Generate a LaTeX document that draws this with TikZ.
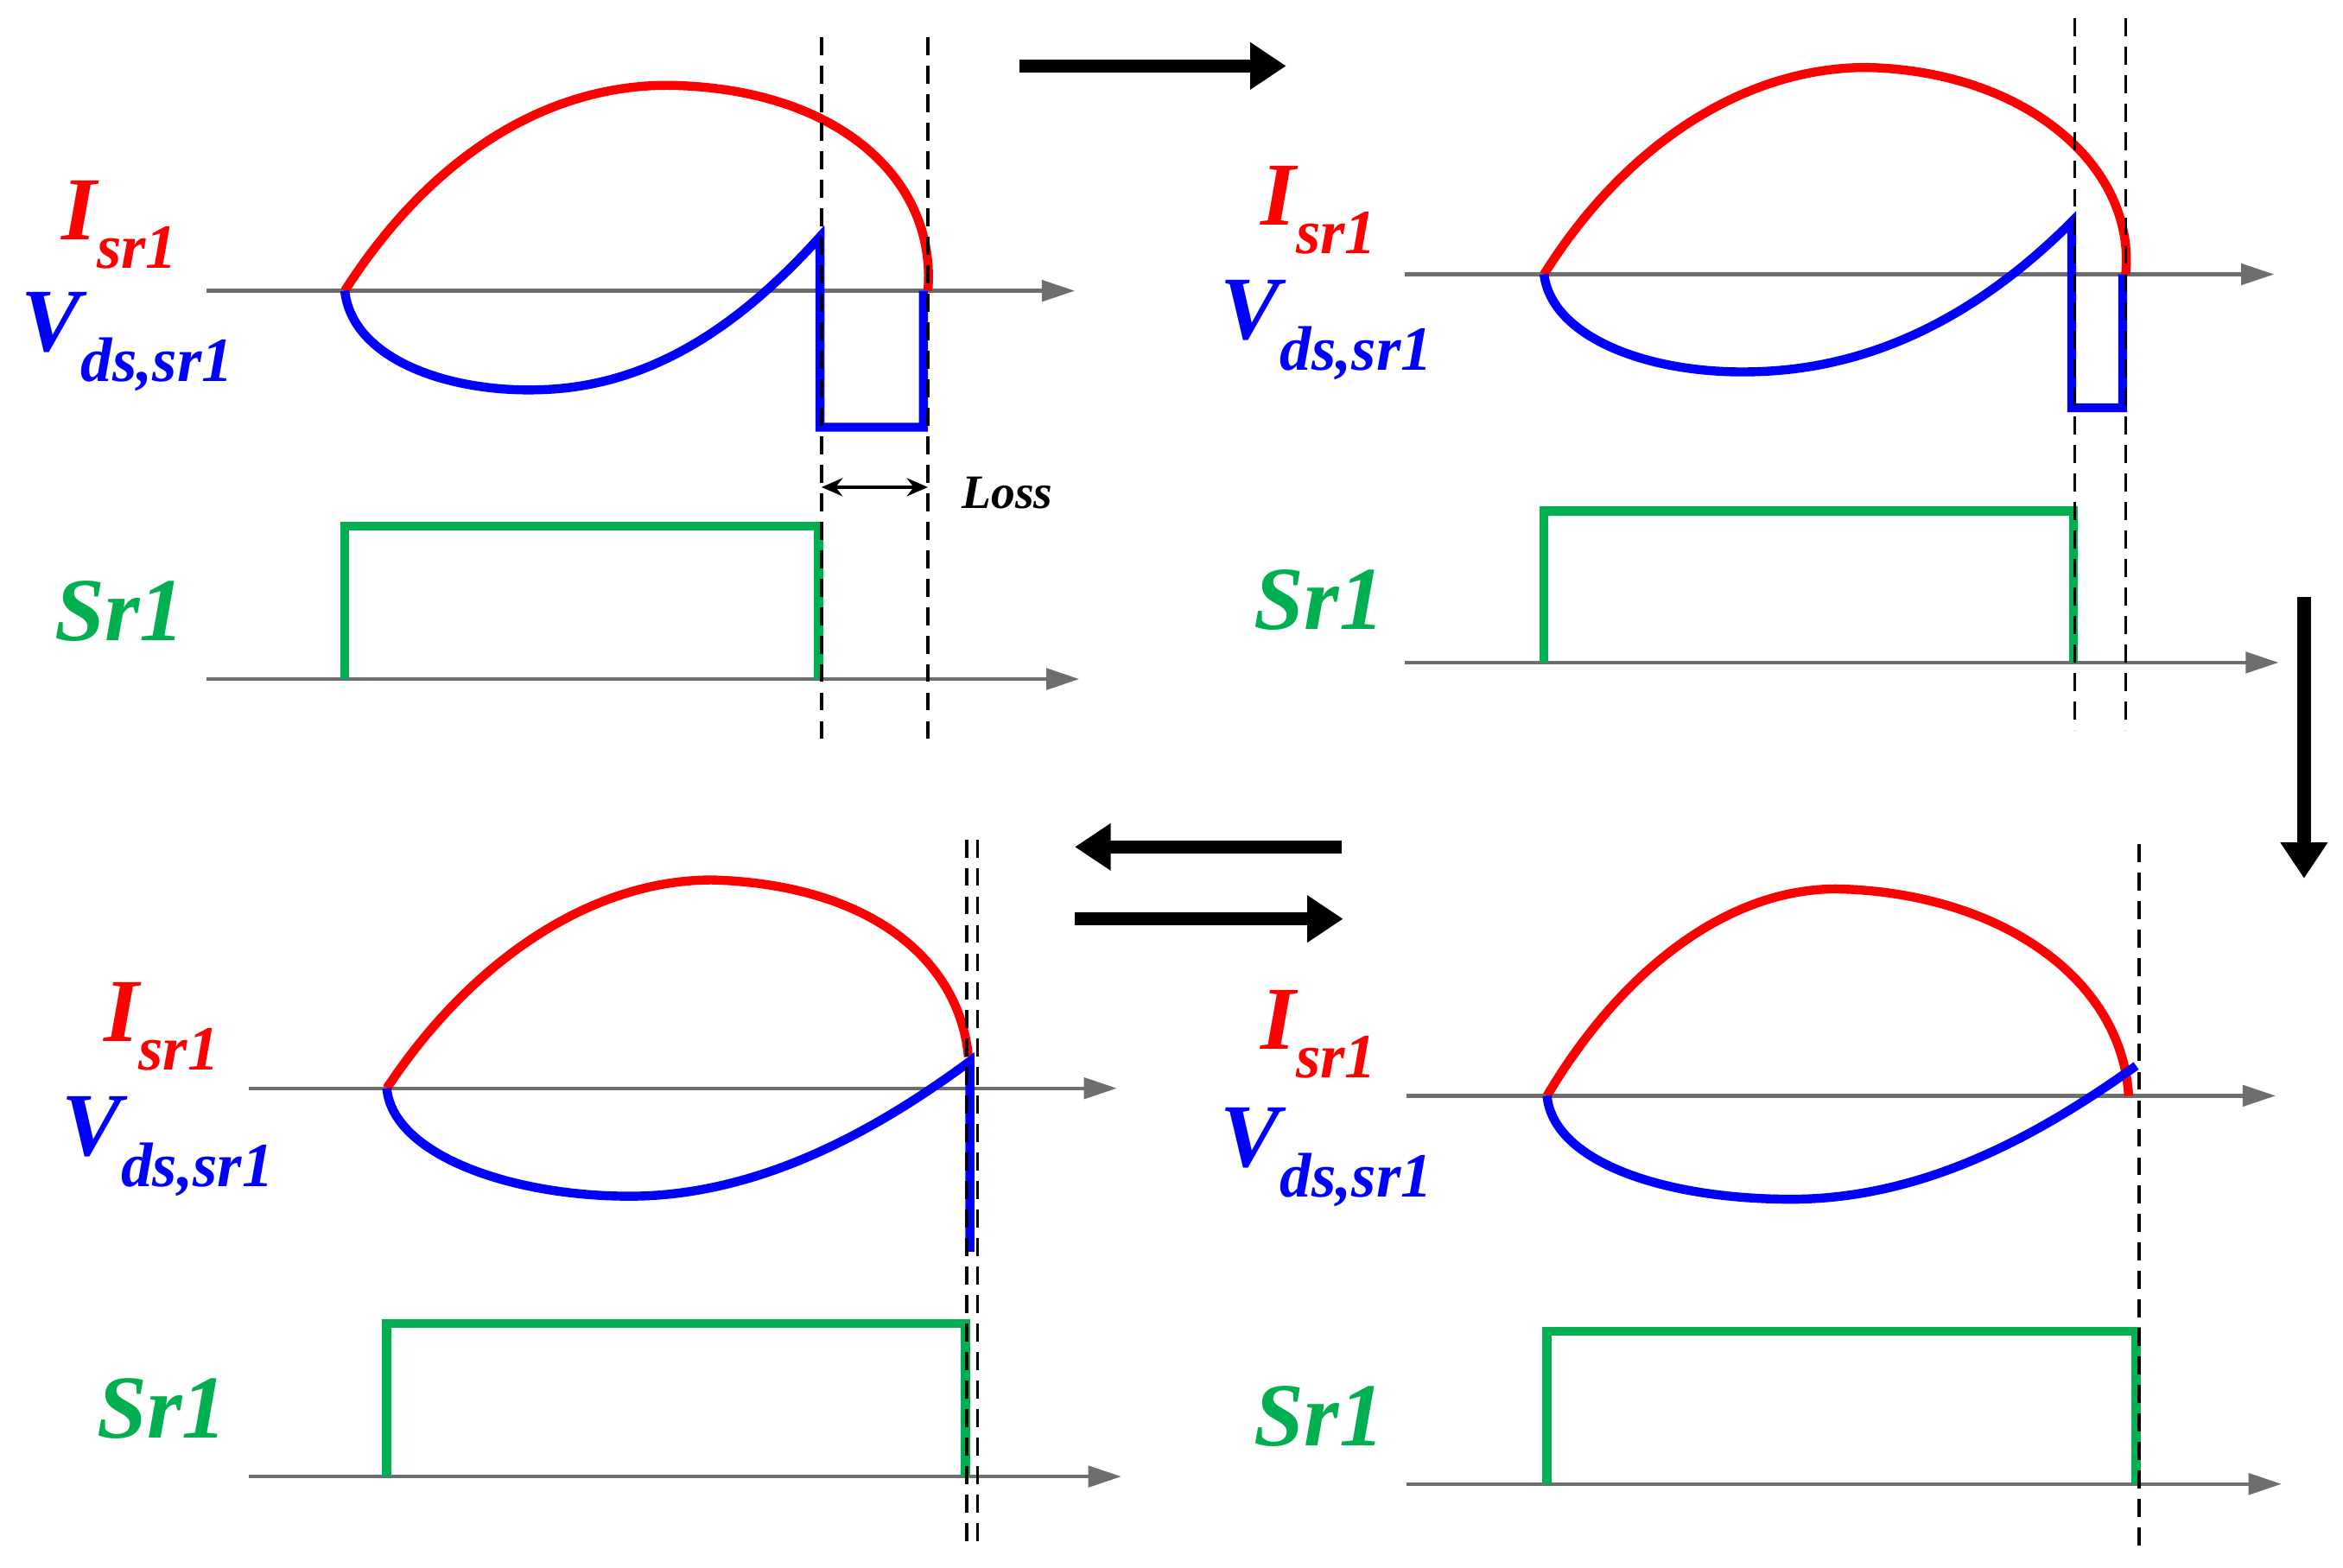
\documentclass[tikz,border=0pt]{standalone}
\usepackage{fontspec}
\setmainfont{Liberation Serif}
\usetikzlibrary{arrows.meta}
\definecolor{cred}{RGB}{255,0,0}
\definecolor{cblue}{RGB}{0,0,255}
\definecolor{cgreen}{RGB}{0,176,80}
\definecolor{cgray}{RGB}{110,110,110}
\begin{document}
\begin{tikzpicture}[x=1pt,y=-1pt,
 ax/.style={cgray,line width=2.5pt,-{Triangle[length=22pt,width=14pt]}},
 cur/.style={cred,line width=6pt},
 vol/.style={cblue,line width=6pt,line join=miter},
 sw/.style={cgreen,line width=6pt},
 dl/.style={black,line width=2pt,dash pattern=on 12pt off 7pt},
 big/.style={black,line width=9pt,-{Triangle[length=24pt,width=30pt]}},
 lbl/.style={font=\fontsize{60}{64}\selectfont\bfseries\itshape,inner sep=0pt}]
\useasboundingbox (0,0) rectangle (1563,1046);
% ---------- panel 1
\node[lbl,cred] (i1) at (80,150) {I\textsubscript{sr1}};
\node[lbl,cblue] (v1) at (85,228) {V\textsubscript{ds,sr1}};
\node[lbl,cgreen] (s1) at (80,408) {Sr1};
\coordinate (a1s) at (138,194); \coordinate (a1e) at (717,194);
\coordinate (b1s) at (138,453); \coordinate (b1e) at (720,453);
\draw[ax] (a1s) -- (a1e);
\draw[ax] (b1s) -- (b1e);
\draw[cur] (230,194) .. controls (290,100) and (370,55) .. (450,57) .. controls (560,60) and (625,120) .. (619,194);
\draw[vol] (230,194) .. controls (235,240) and (300,262) .. (360,260) .. controls (440,258) and (500,210) .. (547,158) -- (547,285) -- (616,285) -- (616,194);
\draw[sw] (230,453) -- (230,351) -- (546,351) -- (546,453);
\draw[dl] (548,25) -- (548,497);
\draw[dl] (619,25) -- (619,497);
\coordinate (l1) at (548,325); \coordinate (l2) at (619,325);
\draw[line width=2.5pt,{Stealth[length=14pt,width=12pt]}-{Stealth[length=14pt,width=12pt]}] (l1) -- (l2);
\node[font=\fontsize{32}{34}\selectfont\bfseries\itshape,inner sep=0pt] (loss) at (672,329) {Loss};
% ---------- panel 2
\node[lbl,cred] (i2) at (880,140) {I\textsubscript{sr1}};
\node[lbl,cblue] (v2) at (885,220) {V\textsubscript{ds,sr1}};
\node[lbl,cgreen] (s2) at (880,400) {Sr1};
\draw[ax] (937,183) -- (1517,183);
\draw[ax] (937,442) -- (1520,442);
\draw[cur] (1030,183) .. controls (1085,95) and (1165,45) .. (1245,45) .. controls (1350,47) and (1425,110) .. (1418,183);
\draw[vol] (1030,183) .. controls (1035,225) and (1100,250) .. (1170,248) .. controls (1260,246) and (1330,200) .. (1382,148) -- (1382,272) -- (1416,272) -- (1416,183);
\draw[sw] (1030,442) -- (1030,341) -- (1383,341) -- (1383,442);
\draw[dl] (1384,12) -- (1384,487);
\draw[dl] (1418,12) -- (1418,487);
% ---------- panel 3
\node[lbl,cred] (i3) at (108,685) {I\textsubscript{sr1}};
\node[lbl,cblue] (v3) at (112,765) {V\textsubscript{ds,sr1}};
\node[lbl,cgreen] (s3) at (108,940) {Sr1};
\draw[ax] (166,726) -- (745,726);
\draw[ax] (166,985) -- (748,985);
\draw[cur] (258,726) .. controls (315,640) and (395,587) .. (475,587) .. controls (580,590) and (640,640) .. (646,705);
\draw[vol] (258,726) .. controls (262,770) and (340,798) .. (420,798) .. controls (510,798) and (590,750) .. (647,708) -- (647,835);
\draw[sw] (258,985) -- (258,883) -- (644,883) -- (644,985);
\draw[dl] (645,560) -- (645,1032);
\draw[dl] (652,560) -- (652,1032);
% ---------- panel 4
\node[lbl,cred] (i4) at (880,690) {I\textsubscript{sr1}};
\node[lbl,cblue] (v4) at (885,772) {V\textsubscript{ds,sr1}};
\node[lbl,cgreen] (s4) at (880,945) {Sr1};
\draw[ax] (938,731) -- (1518,731);
\draw[ax] (938,990) -- (1522,990);
\draw[cur] (1032,731) .. controls (1080,650) and (1150,593) .. (1225,593) .. controls (1330,595) and (1415,650) .. (1420,731);
\draw[vol] (1032,731) .. controls (1036,775) and (1110,800) .. (1195,800) .. controls (1290,800) and (1370,750) .. (1425,711);
\draw[sw] (1032,990) -- (1032,888) -- (1425,888) -- (1425,990);
\draw[dl] (1427,563) -- (1427,1035);
% ---------- big arrows
\coordinate (t1) at (680,44); \coordinate (t2) at (858,44);
\draw[big] (t1) -- (t2);
\coordinate (r1) at (1537,398); \coordinate (r2) at (1537,586);
\draw[big] (r1) -- (r2);
\coordinate (m1) at (895,565); \coordinate (m2) at (717,565);
\draw[big] (m1) -- (m2);
\coordinate (n1) at (717,613); \coordinate (n2) at (896,613);
\draw[big] (n1) -- (n2);
\end{tikzpicture}
\end{document}
